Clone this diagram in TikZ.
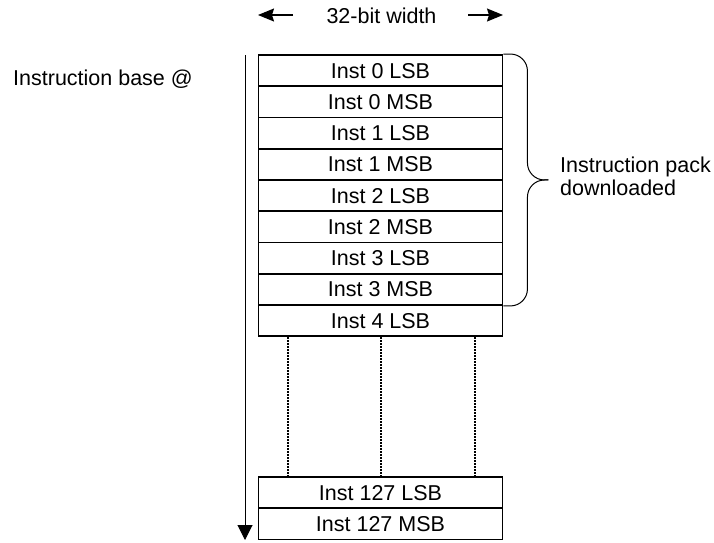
\documentclass[tikz,border=0pt]{standalone}
\usepackage{fontspec}
\setmainfont{Liberation Sans}
\usetikzlibrary{arrows.meta,calc}

\begin{document}
\begin{tikzpicture}[x=1pt,y=-1pt,
    txt/.style={font=\fontsize{21.5}{23}\selectfont,inner sep=0pt},
    cell/.style={txt,draw,line width=1.9pt,minimum width=244pt,minimum height=31.25pt},
    thincell/.style={cell,line width=0.8pt},
    wdarrow/.style={line width=1.2pt,-{Stealth[width=13pt,length=16pt,inset=2pt]}},
    axis/.style={line width=1pt,-{Triangle[width=15pt,length=15pt]}},
    dots/.style={line width=1.5pt,dash pattern=on 1.5pt off 1.5pt},
    brace/.style={line width=1pt,rounded corners=17pt}]
    \useasboundingbox (0,0) rectangle (714,542);

    % Width label
    \node[txt] (wd) at (381.5,16) {32-bit width};
    \coordinate (wl0) at (293,15);
    \coordinate (wl1) at (258,15);
    \coordinate (wr0) at (468,15);
    \coordinate (wr1) at (503,15);
    \draw[wdarrow] (wl0) -- (wl1);
    \draw[wdarrow] (wr0) -- (wr1);

    % Address axis
    \node[txt,anchor=base west] (base) at (13,85) {Instruction base @};
    \coordinate (axtop) at (245,55);
    \coordinate (axbot) at (245,540);
    \draw[axis] (axtop) -- (axbot);

    % Instruction rows
    \foreach \s/\t [count=\i from 0] in {cell/Inst 0 LSB,cell/Inst 0 MSB,cell/Inst 1 LSB,cell/Inst 1 MSB,cell/Inst 2 LSB,cell/Inst 2 MSB,thincell/Inst 3 LSB,cell/Inst 3 MSB,cell/Inst 4 LSB}
        \node[\s] (r\i) at (380.5,{70.6+31.25*\i}) {\t};

    \node[cell] (b0) at (380.5,492.6) {Inst 127 LSB};
    \node[cell] (b1) at (380.5,523.85) {Inst 127 MSB};

    % Gap
    \foreach \dx in {-92.5,0.5,94.5}
        \draw[dots] ([xshift=\dx pt]r8.south) -- ([xshift=\dx pt]b0.north);

    % Downloaded pack
    \coordinate (bmid) at ($(r0.north east)!0.5!(r7.south east)+(24,0)$);
    \draw[brace] (r0.north east) -| (bmid) -- ++(21,0) coordinate (bt);
    \draw[brace] (r7.south east) -| (bmid) -- ++(21,0);
    \node[txt,anchor=west,align=left] (pack) at (560,176) {Instruction pack\\downloaded};
\end{tikzpicture}
\end{document}
